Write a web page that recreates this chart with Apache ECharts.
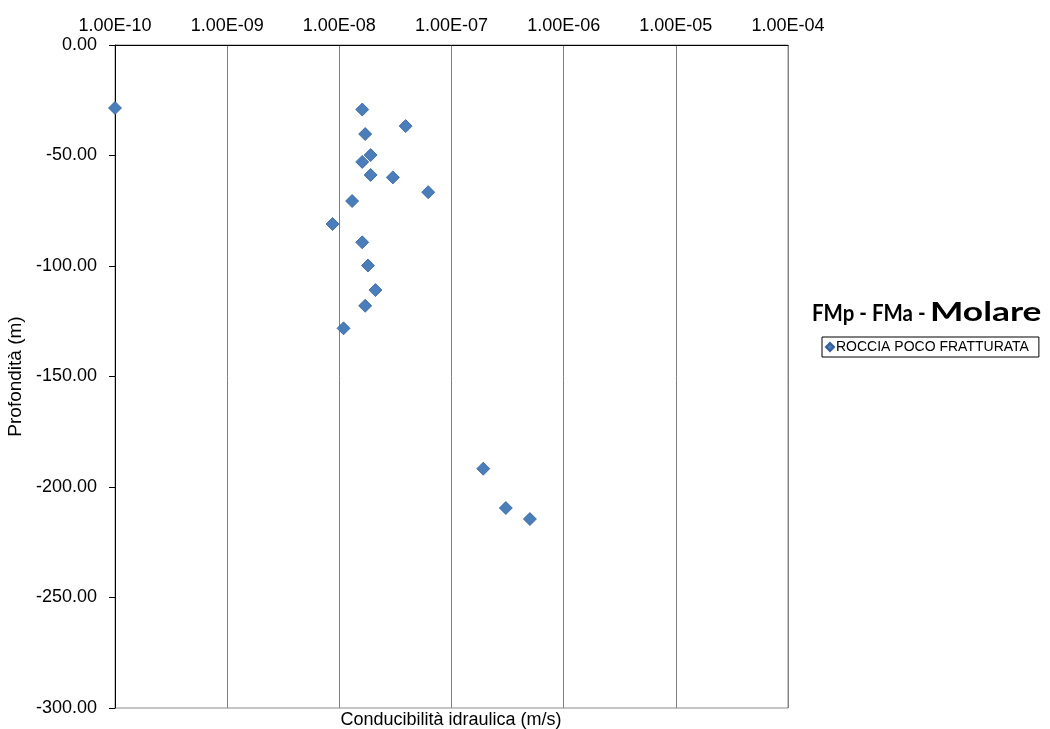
<!DOCTYPE html>
<html><head><meta charset="utf-8">
<script src="https://cdn.jsdelivr.net/npm/echarts@6/dist/echarts.min.js"></script>
<style>html,body{margin:0;padding:0;background:#fff}#c{width:1050px;height:729px}</style>
</head><body><div id="c"></div>
<script>
// Hydraulic conductivity (m/s) and depth (m)
const conductivity = [1.0e-10, 1.6e-8, 3.9e-8, 1.7e-8, 1.9e-8, 1.6e-8, 1.9e-8, 3.0e-8, 6.2e-8, 1.3e-8, 8.7e-9, 1.6e-8, 1.8e-8, 2.1e-8, 1.7e-8, 1.09e-8, 1.92e-7, 3.05e-7, 5.0e-7];
const depth = [-28.5, -29.2, -36.7, -40.3, -49.8, -52.9, -58.8, -59.9, -66.6, -70.6, -81.0, -89.3, -99.8, -110.9, -118.0, -128.2, -191.7, -209.5, -214.5];
const xTicks = ['1.00E-10','1.00E-09','1.00E-08','1.00E-07','1.00E-06','1.00E-05','1.00E-04'];
const seriesName = 'ROCCIA POCO FRATTURATA';
const chartTitle = ['FMp - FMa - ', 'Molare'];
const xAxisName = 'Conducibilità idraulica (m/s)';
const yAxisName = 'Profondità (m)';

const data = conductivity.map((v, i) => [v, depth[i]]);
const chart = echarts.init(document.getElementById('c'), null, {renderer: 'canvas'});
const F = 'Liberation Sans, Arial, sans-serif';
chart.setOption({
  animation: false,
  backgroundColor: '#fff',
  legend: {
    left: 822, top: 337,
    data: [seriesName],
    icon: 'diamond', itemWidth: 8, itemHeight: 8, itemGap: 0,
    padding: [3, 10, 3, 3],
    borderColor: '#000', borderWidth: 1,
    textStyle: {fontFamily: F, fontSize: 14, color: '#000', padding: [0, 0, 0, -3]}
  },
  grid: {left: 115, right: 262, top: 45, bottom: 21, outerBoundsMode: 'none', containLabel: false,
         show: true, borderColor: '#8c8c8c', borderWidth: 1, backgroundColor: '#fff'},
  xAxis: {
    type: 'log', logBase: 10, min: 1e-10, max: 1e-4, position: 'top',
    axisLine: {show: true, lineStyle: {color: '#000', width: 1}},
    axisTick: {show: false},
    splitLine: {show: true, lineStyle: {color: '#808080', width: 1}},
    minorTick: {show: false}, minorSplitLine: {show: false},
    axisLabel: {
      fontFamily: F, fontSize: 18, color: '#000', margin: 10,
      formatter: function (v) { const e = Math.round(Math.log10(v)); return xTicks[e + 10] || ''; }
    }
  },
  yAxis: {
    type: 'value', min: -300, max: 0, interval: 50,
    name: yAxisName, nameLocation: 'middle', nameGap: 87, nameRotate: 90,
    nameTextStyle: {fontFamily: F, fontSize: 19, color: '#000'},
    axisLine: {show: true, lineStyle: {color: '#000', width: 1}},
    axisTick: {show: true, length: 6, lineStyle: {color: '#000'}},
    splitLine: {show: false},
    axisLabel: {fontFamily: F, fontSize: 18, color: '#000', margin: 18, formatter: v => v.toFixed(2)}
  },
  graphic: [
    {type: 'text', x: 451, y: 720,
     style: {text: xAxisName, fontFamily: F, fontSize: 18, fill: '#000', align: 'center', verticalAlign: 'middle'}},
    {type: 'text', x: 812, y: 314, scaleX: 0.93,
     style: {text: chartTitle[0], fontFamily: 'Lato', fontWeight: 'bold', fontSize: 22, fill: '#000', align: 'left', verticalAlign: 'middle'}},
    {type: 'text', x: 930, y: 313, scaleX: 1.36,
     style: {text: chartTitle[1], fontFamily: 'Lato', fontWeight: 'bold', fontSize: 26, fill: '#000', align: 'left', verticalAlign: 'middle'}}
  ],
  series: [{
    name: seriesName, type: 'scatter', data: data,
    symbol: 'diamond', symbolSize: 13,
    itemStyle: {color: '#4A7EBB', borderColor: '#35609A', borderWidth: 0.8, opacity: 1}
  }]
});
</script></body></html>
